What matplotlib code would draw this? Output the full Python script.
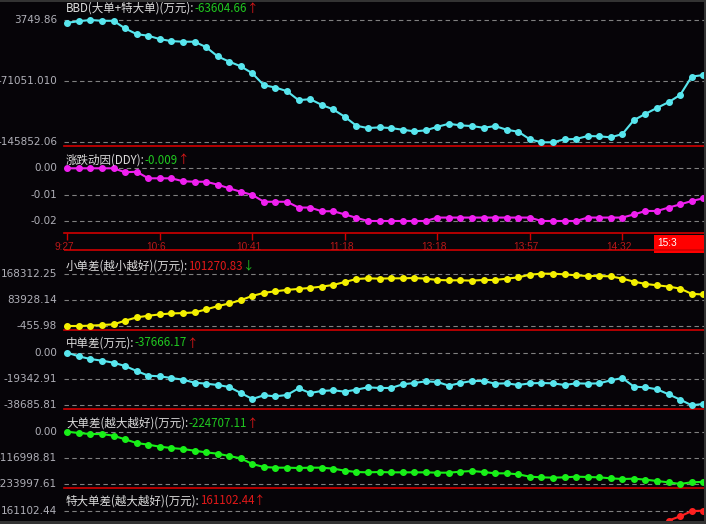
import matplotlib
matplotlib.use('Agg')
import matplotlib.pyplot as plt
import numpy as np
from matplotlib.patches import Rectangle

plt.rcParams['font.family'] = ['Noto Sans CJK SC', 'DejaVu Sans']

# ---- data ----
time_ticks = [0, 8, 16, 24, 32, 40, 48]
time_labels = ['9:27', '10:6', '10:41', '11:18', '13:18', '13:57', '14:32']
last_time = '15:3'

bbd = [339, 2288, 3749.86, 2775, 2775, -6606, -13550, -15500, -19640, -22080,
       -22810, -22810, -29390, -40720, -47180, -52900, -61430, -76050, -78850, -83360,
       -94320, -93110, -100050, -105660, -114670, -125630, -128440, -127580, -128440, -130510,
       -132460, -131240, -126860, -123200, -125150, -126000, -128070, -126000, -130510, -132950,
       -142200, -145852.06, -145852.06, -142200, -141840, -138180, -138550, -139770, -135750, -118690,
       -111020, -103710, -96760, -87870, -65450, -63604.66]

ddy = [0, 0, 0, 0, 0, -0.0015, -0.0013, -0.0038, -0.0038, -0.0038,
       -0.0049, -0.0051, -0.0051, -0.0062, -0.0076, -0.0089, -0.0101, -0.0127, -0.0127, -0.0127,
       -0.0149, -0.0149, -0.0163, -0.0163, -0.0175, -0.0188, -0.02, -0.02, -0.02, -0.02,
       -0.02, -0.02, -0.0187, -0.0187, -0.0187, -0.0187, -0.0187, -0.0187, -0.0187, -0.0187,
       -0.0187, -0.02, -0.02, -0.02, -0.02, -0.0187, -0.0187, -0.0187, -0.0187, -0.0175,
       -0.0162, -0.0162, -0.0149, -0.0137, -0.0124, -0.0114]

small = [-455.98, -455.98, 612, 2749, 4885, 16635, 27317, 32658, 36931, 40136,
         41204, 43340, 52954, 63636, 72182, 82864, 96751, 106365, 111706, 115979,
         119183, 122388, 126661, 132002, 141616, 151200, 153366, 152298, 153366, 153366,
         154434, 152298, 148025, 146957, 146957, 145889, 148025, 148025, 152298, 156570,
         165116, 168312.25, 168312.25, 166184, 162979, 160843, 160843, 159775, 152298, 142685,
         135207, 130934, 126661, 120252, 103161, 101270.83]

mid = [0, -2693, -4652, -5876, -7345, -9794, -13467, -16895, -17384, -18609,
       -19833, -22036, -22771, -23750, -25220, -29627, -34034, -31341, -32076, -31096,
       -26199, -29627, -28158, -27668, -28648, -27179, -25464, -25954, -25954, -23261,
       -22281, -21057, -21547, -24240, -22281, -20812, -20812, -22771, -22526, -23750,
       -22526, -22281, -22526, -23750, -22526, -22771, -22526, -20323, -18609, -24975,
       -25464, -26934, -30606, -34524, -38685.81, -37666.17]

large = [0, -5962, -10433, -10433, -17885, -34279, -50674, -58126, -67068, -73030,
         -77501, -84953, -92405, -98366, -108799, -119232, -144569, -157982, -160963, -160963,
         -162454, -160963, -160963, -165434, -174376, -180338, -181829, -180338, -181829, -181829,
         -181829, -181829, -183319, -183319, -178848, -175867, -180338, -186300, -186300, -190771,
         -201204, -204185, -205675, -204185, -201204, -202694, -204185, -208656, -211637, -210146,
         -214618, -220579, -226541, -233997.61, -226000, -224707.11]

# only the tail of the last series is visible
xlarge_start = 52
xlarge_tail = [131000, 144000, 160000, 161102.44]

# ---- layout (pixels) ----
W, H = 706, 524
X0, X1 = 64, 704
STEP = 11.564       # px between points
FIRST = 67.3        # px of point 0
BG = '#060408'
LABEL = '#dcdcdc'
AXLAB = '#b0b0b8'
GREEN = '#20c820'
RED = '#e01818'
GRID = '#808080'
SEP = '#d00000'

fig = plt.figure(figsize=(W / 100, H / 100), dpi=100, facecolor=BG)
xlim = ((X0 - FIRST) / STEP, (X1 - FIRST) / STEP)


def add_panel(top, bottom):
    ax = fig.add_axes([X0 / W, 1 - bottom / H, (X1 - X0) / W, (bottom - top) / H])
    ax.set_facecolor(BG)
    ax.patch.set_alpha(0)
    ax.set_xlim(xlim)
    ax.set_xticks([])
    ax.set_yticks([])
    for s in ['top', 'left', 'right']:
        ax.spines[s].set_visible(False)
    ax.spines['bottom'].set_color(SEP)
    ax.spines['bottom'].set_linewidth(1.2)
    return ax


def panel(top, bottom, title_y, grid_px, grid_vals, grid_labels,
          label, value, vcolor, arrow, acolor, series, color, start=0):
    ax = add_panel(top, bottom)
    k = (grid_vals[0] - grid_vals[-1]) / (grid_px[-1] - grid_px[0])
    ax.set_ylim(grid_vals[-1] - (bottom - grid_px[-1]) * k,
                grid_vals[0] + (grid_px[0] - top) * k)
    for v, lab in zip(grid_vals, grid_labels):
        ax.axhline(v, color=GRID, lw=0.8, ls=(0, (4, 3)), zorder=1)
        if lab:
            ax.text(-7 / (X1 - X0), v, lab, transform=ax.get_yaxis_transform(),
                    ha='right', va='center', fontsize=7.5, color=AXLAB,
                    family='DejaVu Sans', clip_on=False)
    x = np.arange(start, start + len(series))
    ax.plot(x, series, color=color, lw=1.5, marker='o', ms=4, zorder=3)
    ty = (bottom - title_y) / (bottom - top)
    t = ax.text(2 / (X1 - X0), ty, label, transform=ax.transAxes, color=LABEL,
                fontsize=8.3, va='center', ha='left', zorder=5)
    t2 = ax.annotate(value, xy=(1, 0), xycoords=t, va='bottom', ha='left',
                     color=vcolor, fontsize=8.3, zorder=5)
    ax.annotate(arrow, xy=(1, 0), xycoords=t2, va='bottom', ha='left',
                color=acolor, fontsize=8.3, zorder=5)
    return ax


panel(3, 146, 8.5, [20, 81, 142.3], [3749.86, -71051.01, -145852.06],
      ['3749.86', '-71051.010', '-145852.06'],
      'BBD(大单+特大单)(万元):', '-63604.66', GREEN, '↑', RED, bbd, '#58e6ee')

panel(147, 233.3, 160, [168.3, 195, 221], [0, -0.01, -0.02],
      ['0.00', '-0.01', '-0.02'],
      '涨跌动因(DDY):', '-0.009', GREEN, '↑', RED, ddy, '#f020f0')

# time axis band
axt = fig.add_axes([X0 / W, 1 - 253 / H, (X1 - X0) / W, (253 - 233.3) / H])
axt.set_axis_off()
axt.set_xlim(xlim)
axt.set_ylim(0, 1)
band_h = 253 - 233.3
axt.axhline((253 - 250) / band_h, color=SEP, lw=1.2)
axt.vlines(time_ticks, (253 - 239.5) / band_h, 1, color=SEP, lw=1)
for i, lab in zip(time_ticks, time_labels):
    axt.text(i - 0.3, (253 - 246.5) / band_h, lab, ha='center', va='center',
             fontsize=7.3, color='#b81818', family='Liberation Sans')
box_x = (654 - FIRST) / STEP
axt.add_patch(Rectangle((box_x, 0), xlim[1] - box_x, (253 - 235) / band_h,
                        color='#ff0000', lw=0))
axt.text(box_x + 0.25, (253 - 243.5) / band_h, last_time, ha='left', va='center',
         fontsize=7.3, color='white', family='Liberation Sans')

panel(253, 330.3, 266, [273.7, 300, 326], [168312.25, 83928.14, -455.98],
      ['168312.25', '83928.14', '-455.98'],
      '小单差(越小越好)(万元):', '101270.83', RED, '↓', GREEN, small, '#f4f000')

panel(331, 409.3, 343, [352.7, 379, 405.3], [0, -19342.91, -38685.81],
      ['0.00', '-19342.91', '-38685.81'],
      '中单差(万元):', '-37666.17', GREEN, '↑', RED, mid, '#58e6ee')

panel(410, 488, 423.3, [431.7, 458.3, 484], [0, -116998.81, -233997.61],
      ['0.00', '-116998.81', '-233997.61'],
      '大单差(越大越好)(万元):', '-224707.11', GREEN, '↑', RED, large, '#18f018')

ax6 = panel(489, 521, 500.7, [510.7, 537], [161102.44, 80551.22],
            ['161102.44', ''],
            '特大单差(越大越好)(万元):', '161102.44', RED, '↑', RED,
            xlarge_tail, '#ff2020', start=xlarge_start)
ax6.spines['bottom'].set_visible(False)

# window frame
for r in [(0, H - 2, W, 2), (W - 2, 0, 2, H), (0, 0, W, 3)]:
    fig.patches.append(Rectangle((r[0] / W, r[1] / H), r[2] / W, r[3] / H,
                                 transform=fig.transFigure, color='#333333', lw=0))

fig.savefig('out.png', dpi=100, facecolor=BG)
